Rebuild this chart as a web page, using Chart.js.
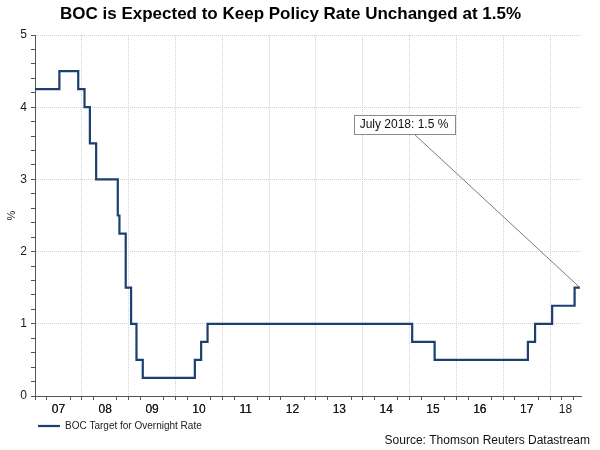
<!DOCTYPE html>
<html>
<head>
<meta charset="utf-8">
<script src="https://cdn.jsdelivr.net/npm/chart.js@4"></script>
<style>
  html, body { margin: 0; padding: 0; background: #ffffff; }
  #wrap { width: 600px; height: 450px; position: relative; }
</style>
</head>
<body>
<div id="wrap"><canvas id="c"></canvas></div>
<script>
// ---- Data ----
const chartTitle = 'BOC is Expected to Keep Policy Rate Unchanged at 1.5%';
const seriesLabel = 'BOC Target for Overnight Rate';
const sourceText = 'Source: Thomson Reuters Datastream';
const yAxisTitle = '%';

// Dates at which the target rate took a new value (last entry = end of series)
const changeDates = ['2007-01-01','2007-07-10','2007-12-04','2008-01-22','2008-03-04','2008-04-22',
  '2008-10-08','2008-10-21','2008-12-09','2009-01-20','2009-03-03','2009-04-21','2010-06-01',
  '2010-07-20','2010-09-08','2015-01-21','2015-07-15','2017-07-12','2017-09-06','2018-01-17',
  '2018-07-11','2018-08-22'];
const rates = [4.25,4.5,4.25,4.0,3.5,3.0,2.5,2.25,1.5,1.0,0.5,0.25,0.5,0.75,1.0,0.75,0.5,0.75,1.0,1.25,1.5,1.5];

const xMin = 2007;
const xMax = 2018.66;
const yearLabels = ['07','08','09','10','11','12','13','14','15','16','17','18'];
const yTickValues = [0, 1, 2, 3, 4, 5];

const annotationText = 'July 2018: 1.5 %';
const annotationBoxAt = { x: 2014.88, y: 3.76 };

// ---- Helpers ----
function decimalYear(s) {
  const [y, m, d] = s.split('-').map(Number);
  const start = Date.UTC(y, 0, 1), end = Date.UTC(y + 1, 0, 1);
  return y + (Date.UTC(y, m - 1, d) - start) / (end - start);
}
const points = changeDates.map((d, i) => ({ x: decimalYear(d), y: rates[i] }));

const firstYear = 2007;
const yearBoundaries = yearLabels.map((_, i) => firstYear + i);
const labelPositions = yearLabels.map((_, i) => {
  const a = Math.max(firstYear + i, xMin), b = Math.min(firstYear + i + 1, xMax);
  return (a + b) / 2;
});
const quarterTicks = [];
yearBoundaries.forEach(y => { [0.25, 0.5, 0.75].forEach(q => { if (y + q < xMax) quarterTicks.push(y + q); }); });

const near = (a, b) => Math.abs(a - b) < 1e-6;
const isBoundary = v => yearBoundaries.some(b => near(b, v));
const labelIndex = v => labelPositions.findIndex(p => near(p, v));

const yMinorTicks = [];
for (let i = 0; i <= 25; i++) yMinorTicks.push(Math.round(i * 2) / 10);

const FONT = "'Liberation Sans', Arial, sans-serif";
const lineColor = '#1b3f70';
const axisColor = '#555555';
const gridColor = '#d2d2d2';

// ---- Plugin: source text + annotation ----
const extras = {
  id: 'extras',
  afterDatasetsDraw(chart) {
    const ctx = chart.ctx;
    const xs = chart.scales.x, ys = chart.scales.y;
    const last = points[points.length - 1];
    const px = xs.getPixelForValue(last.x), py = ys.getPixelForValue(last.y);
    const bx = xs.getPixelForValue(annotationBoxAt.x), by = ys.getPixelForValue(annotationBoxAt.y);
    ctx.save();
    ctx.font = '12px ' + FONT;
    const tw = ctx.measureText(annotationText).width;
    const w = tw + 12, h = 19;
    // leader line
    ctx.strokeStyle = '#7a7a7a';
    ctx.lineWidth = 1;
    ctx.beginPath();
    ctx.moveTo(bx + w * 0.1, by + h / 2);
    ctx.lineTo(px, py);
    ctx.stroke();
    // box
    ctx.fillStyle = '#ffffff';
    ctx.fillRect(bx - w / 2, by - h / 2, w, h);
    ctx.strokeStyle = '#8a8a8a';
    ctx.strokeRect(Math.round(bx - w / 2) + 0.5, Math.round(by - h / 2) + 0.5, Math.round(w), Math.round(h));
    ctx.fillStyle = '#111111';
    ctx.textAlign = 'center';
    ctx.textBaseline = 'middle';
    ctx.fillText(annotationText, bx, by + 0.5);
    ctx.restore();
  },
  afterDraw(chart) {
    const ctx = chart.ctx;
    ctx.save();
    ctx.font = '12px ' + FONT;
    ctx.fillStyle = '#111111';
    ctx.textAlign = 'right';
    ctx.textBaseline = 'middle';
    ctx.fillText(sourceText, 590, 441);
    ctx.restore();
  }
};

new Chart(document.getElementById('c'), {
  type: 'line',
  data: {
    datasets: [{
      label: seriesLabel,
      data: points,
      borderColor: lineColor,
      backgroundColor: lineColor,
      borderWidth: 2.2,
      pointRadius: 0,
      stepped: true,
      fill: false
    }]
  },
  options: {
    responsive: true,
    maintainAspectRatio: false,
    animation: false,
    events: [],
    layout: { padding: { left: 0, right: 19, top: 0, bottom: 9 } },
    plugins: {
      title: {
        display: true,
        text: chartTitle,
        color: '#000000',
        font: { family: FONT, size: 17, weight: 'bold' },
        padding: { top: 4, bottom: 10.6 }
      },
      legend: {
        display: true,
        position: 'bottom',
        align: 'start',
        fullSize: false,
        labels: {
          usePointStyle: true,
          pointStyle: 'line',
          pointStyleWidth: 22,
          padding: 3,
          color: '#222222',
          font: { family: FONT, size: 10 }
        }
      },
      tooltip: { enabled: false }
    },
    scales: {
      x: {
        type: 'linear',
        min: xMin,
        max: xMax,
        afterBuildTicks(scale) {
          const vals = [...yearBoundaries, ...quarterTicks, ...labelPositions].sort((a, b) => a - b);
          scale.ticks = vals.map(v => ({ value: v }));
        },
        afterFit(scale) { scale.height = 22; },
        ticks: {
          autoSkip: false,
          maxRotation: 0,
          minRotation: 0,
          padding: 2,
          color: '#1a1a1a',
          font: { family: FONT, size: 12 },
          callback: (v) => { const i = labelIndex(v); return i >= 0 ? yearLabels[i] : ''; }
        },
        grid: {
          drawOnChartArea: true,
          color: (c) => (c.tick && isBoundary(c.tick.value)) ? gridColor : 'rgba(0,0,0,0)',
          tickColor: (c) => (c.tick && labelIndex(c.tick.value) >= 0) ? 'rgba(0,0,0,0)' : axisColor,
          tickLength: 4,
          lineWidth: 1
        },
        border: { display: true, color: axisColor, width: 1, dash: [1, 1] }
      },
      y: {
        min: 0,
        max: 5,
        afterBuildTicks(scale) { scale.ticks = yMinorTicks.map(v => ({ value: v })); },
        afterFit(scale) { scale.width = 35; },
        title: {
          display: true,
          text: yAxisTitle,
          color: '#222222',
          font: { family: FONT, size: 11 },
          padding: { top: 5, bottom: 0 }
        },
        ticks: {
          autoSkip: false,
          padding: 4,
          color: '#1a1a1a',
          font: { family: FONT, size: 12 },
          callback: (v) => yTickValues.some(t => near(t, v)) ? String(Math.round(v)) : ''
        },
        grid: {
          color: (c) => (c.tick && yTickValues.some(t => near(t, c.tick.value)) && c.tick.value > 0) ? gridColor : 'rgba(0,0,0,0)',
          tickColor: axisColor,
          tickLength: 4,
          lineWidth: 1
        },
        border: { display: true, color: axisColor, width: 1, dash: [1, 1] }
      }
    }
  },
  plugins: [extras]
});
</script>
</body>
</html>
